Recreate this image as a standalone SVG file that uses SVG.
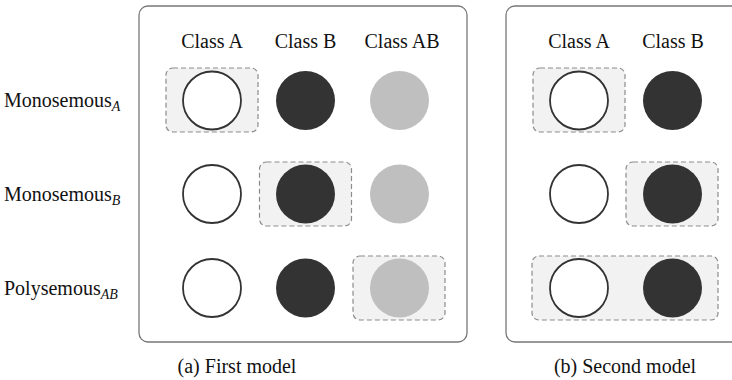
<svg xmlns="http://www.w3.org/2000/svg" width="732" height="380" viewBox="0 0 732 380">
<style>
text{font-size:20px;fill:#111}
.h{text-anchor:middle}
.sub{font-style:italic;font-size:14px}
.panel{fill:#fff;stroke:#777;stroke-width:1.3}
.hl{fill:#f2f2f2;stroke:#8c8c8c;stroke-width:1.2;stroke-dasharray:5 3}
.w{fill:#fff;stroke:#333;stroke-width:1.8}
.d{fill:#333}
.g{fill:#bfbfbf}
</style>
<rect width="732" height="380" fill="#fff"/>
<g font-family="Liberation Serif, serif">
<g id="panel-a">
<rect class="panel" x="139" y="6" width="328" height="336" rx="9"/>
<text class="h" x="212" y="48">Class A</text>
<text class="h" x="305.5" y="48">Class B</text>
<text class="h" x="402" y="48">Class AB</text>
<rect class="hl" x="166" y="68" width="92" height="64" rx="7"/>
<rect class="hl" x="259.5" y="162" width="92" height="64" rx="7"/>
<rect class="hl" x="353" y="256" width="92" height="64" rx="7"/>
<circle class="w" cx="212" cy="100.5" r="29"/>
<circle class="d" cx="305.5" cy="100.5" r="29.5"/>
<circle class="g" cx="399.5" cy="100.5" r="29.5"/>
<circle class="w" cx="212" cy="194" r="29"/>
<circle class="d" cx="305.5" cy="194" r="29.5"/>
<circle class="g" cx="399.5" cy="194" r="29.5"/>
<circle class="w" cx="212" cy="288" r="29"/>
<circle class="d" cx="305.5" cy="288" r="29.5"/>
<circle class="g" cx="399.5" cy="288" r="29.5"/>
<text class="h" x="237" y="373">(a) First model</text>
</g>
<g id="panel-b">
<rect class="panel" x="506" y="6" width="240" height="336" rx="9"/>
<text class="h" x="579" y="48">Class A</text>
<text class="h" x="673" y="48">Class B</text>
<rect class="hl" x="533" y="68" width="92" height="64" rx="7"/>
<rect class="hl" x="626" y="162" width="92" height="64" rx="7"/>
<rect class="hl" x="532" y="256" width="186" height="64" rx="7"/>
<circle class="w" cx="579" cy="100.5" r="29"/>
<circle class="d" cx="672.5" cy="100.5" r="29.5"/>
<circle class="w" cx="579" cy="194" r="29"/>
<circle class="d" cx="672.5" cy="194" r="29.5"/>
<circle class="w" cx="579" cy="288" r="29"/>
<circle class="d" cx="672.5" cy="288" r="29.5"/>
<text class="h" x="625" y="373">(b) Second model</text>
</g>
<g id="row-labels">
<text x="4" y="107">Monosemous<tspan class="sub" dy="4">A</tspan></text>
<text x="4" y="201">Monosemous<tspan class="sub" dy="4">B</tspan></text>
<text x="4" y="295">Polysemous<tspan class="sub" dy="4">AB</tspan></text>
</g>
</g>
<g id="connectors"/>
</svg>
